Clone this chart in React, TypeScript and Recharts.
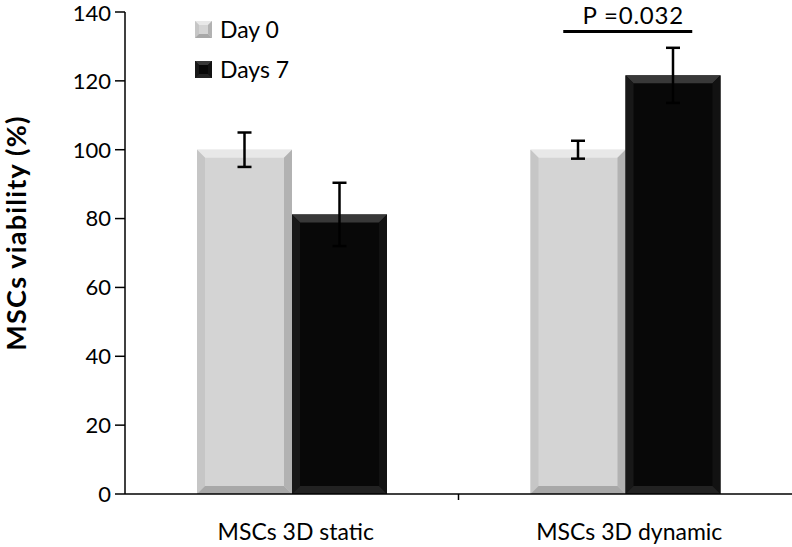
import { BarChart, Bar, XAxis, YAxis, ErrorBar, Legend, ReferenceDot } from "recharts";

const CATEGORIES = ["MSCs 3D static", "MSCs 3D dynamic"];
const DAY0 = [100, 100];
const DAY0_ERR = [5, 2.6];
const DAY7 = [81.2, 121.6];
const DAY7_ERR = [9.2, 8];
const Y_TICKS = [0, 20, 40, 60, 80, 100, 120, 140];
const P_CATEGORY = "MSCs 3D dynamic";
const P_LEVEL = 134.3;
const P_TEXT = "P =0.032";

const data = CATEGORIES.map((c, i) => ({
  name: c,
  day0: DAY0[i],
  day0Err: DAY0_ERR[i],
  day7: DAY7[i],
  day7Err: DAY7_ERR[i],
}));

const FONT = "Lato, 'Open Sans', sans-serif";

const GREY = { face: "#d4d4d4", top: "#e8e8e8", left: "#c6c6c6", right: "#b2b2b2", bottom: "#a8a8a8" };
const BLACK = { face: "#080808", top: "#383838", left: "#181818", right: "#121212", bottom: "#222222" };

function Bevel({ x, y, width, height, pal, b = 8 }: any) {
  if (!height || height <= 0) return null;
  const r = x + width;
  const bt = y + height;
  return (
    <g>
      <rect x={x} y={y} width={width} height={height} fill={pal.face} />
      <polygon points={`${x},${y} ${r},${y} ${r - b},${y + b} ${x + b},${y + b}`} fill={pal.top} />
      <polygon points={`${x},${y} ${x + b},${y + b} ${x + b},${bt - b} ${x},${bt}`} fill={pal.left} />
      <polygon points={`${r},${y} ${r - b},${y + b} ${r - b},${bt - b} ${r},${bt}`} fill={pal.right} />
      <polygon points={`${x},${bt} ${x + b},${bt - b} ${r - b},${bt - b} ${r},${bt}`} fill={pal.bottom} />
    </g>
  );
}

function XTick(props: any) {
  const { x, y, payload, index } = props;
  const off = payload && payload.offset ? payload.offset : 0;
  return (
    <g>
      {index === 0 && off ? <line x1={x + off} x2={x + off} y1={y - 8} y2={y - 2} stroke="#000" strokeWidth={1.5} /> : null}
      <text x={x + 4} y={y + 38} textAnchor="middle" fontFamily={FONT} fontSize={23} fill="#000">
        {payload.value}
      </text>
    </g>
  );
}

function LegendBox({ payload }: any) {
  return (
    <div style={{ fontFamily: FONT, fontSize: 23, color: "#000" }}>
      {(payload || []).map((p: any, i: number) => (
        <div key={i} style={{ display: "flex", alignItems: "center", height: 40 }}>
          <svg width={17} height={17} style={{ marginRight: 8 }}>
            <Bevel x={0} y={0} width={17} height={17} pal={i === 0 ? GREY : BLACK} b={4} />
          </svg>
          <span>{p.value}</span>
        </div>
      ))}
    </div>
  );
}

export default function App() {
  return (
    <div style={{ position: "absolute", left: 0, top: 0, width: 792, height: 547, background: "#fff" }}>
      <BarChart width={792} height={547} data={data} margin={{ top: 12, right: 0, bottom: 0, left: 0 }} barGap={0}>
        <XAxis
          dataKey="name"
          axisLine={{ stroke: "#000", strokeWidth: 1.5 }}
          tickLine={false}
          tick={<XTick />}
          interval={0}
          height={53}
        />
        <YAxis
          domain={[0, 140]}
          ticks={Y_TICKS}
          width={125}
          axisLine={{ stroke: "#000", strokeWidth: 1.5 }}
          tickLine={{ stroke: "#000", strokeWidth: 1.5 }}
          tickSize={10}
          tickMargin={4}
          tick={{ fill: "#000", fontSize: 22, fontFamily: FONT }}
          label={{
            content: () => (
              <text
                transform="translate(26,233) rotate(-90)"
                textAnchor="middle"
                fontFamily={FONT}
                fontWeight={700}
                fontSize={27}
                letterSpacing={1.2}
                fill="#000"
              >
                MSCs viability (%)
              </text>
            ),
          }}
        />
        <Legend
          layout="vertical"
          align="center"
          verticalAlign="middle"
          wrapperStyle={{ left: 195, top: 9, width: "auto" }}
          content={<LegendBox />}
        />
        <Bar dataKey="day0" name="Day 0" barSize={95} isAnimationActive={false} shape={(p: any) => <Bevel {...p} pal={GREY} />}>
          <ErrorBar dataKey="day0Err" width={7} strokeWidth={2.5} stroke="#000" />
        </Bar>
        <Bar dataKey="day7" name="Days 7" barSize={95} isAnimationActive={false} shape={(p: any) => <Bevel {...p} pal={BLACK} />}>
          <ErrorBar dataKey="day7Err" width={7} strokeWidth={2.5} stroke="#000" />
        </Bar>
        <ReferenceDot
          x={P_CATEGORY}
          y={P_LEVEL}
          r={1}
          shape={(p: any) => (
            <g>
              <line x1={p.cx - 62} x2={p.cx + 67} y1={p.cy} y2={p.cy} stroke="#000" strokeWidth={3} />
              <text x={p.cx + 8} y={p.cy - 8} textAnchor="middle" fontFamily={FONT} fontSize={24} letterSpacing={0.8} fill="#000">
                {P_TEXT}
              </text>
            </g>
          )}
        />
      </BarChart>
    </div>
  );
}
